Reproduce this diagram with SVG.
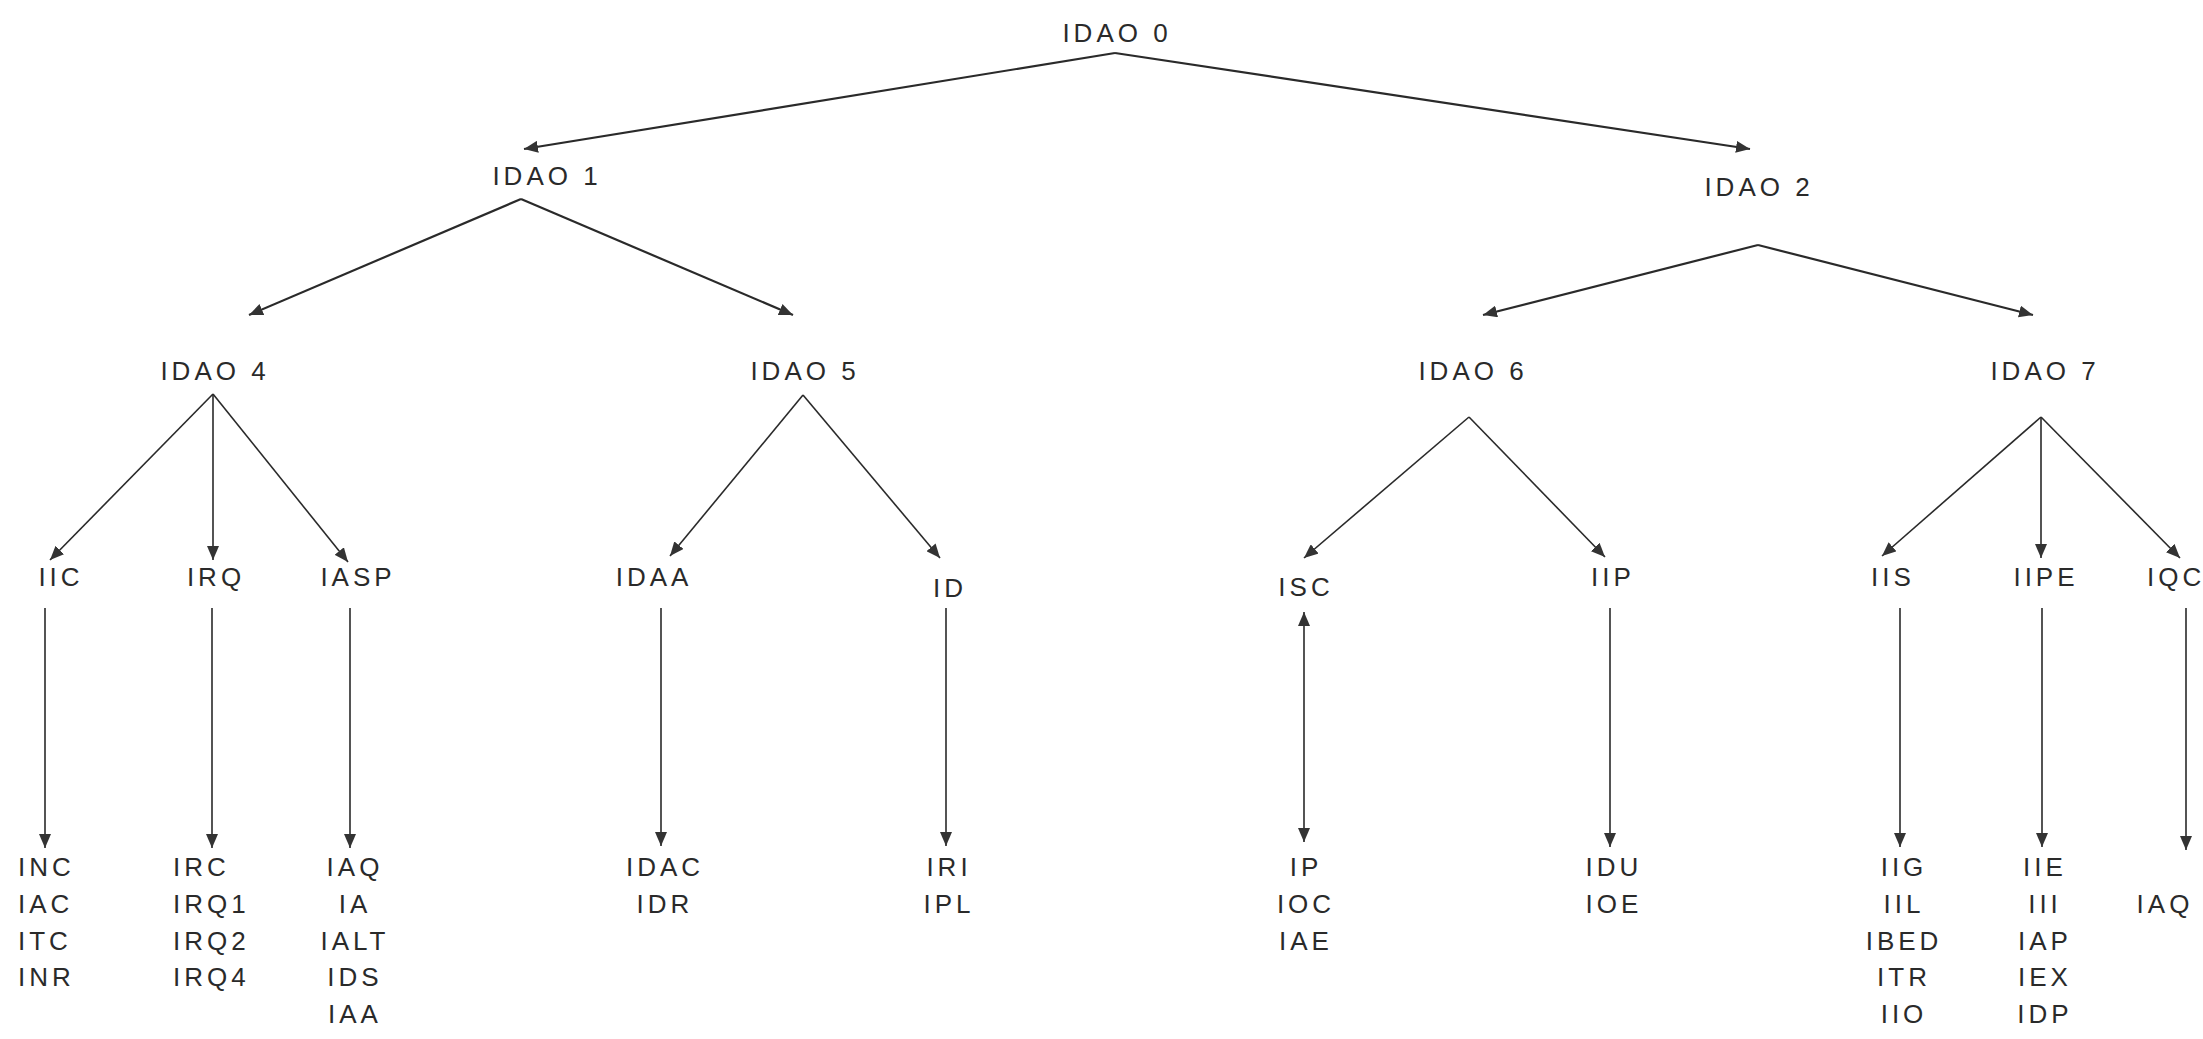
<svg xmlns="http://www.w3.org/2000/svg" width="2203" height="1039" viewBox="0 0 2203 1039">
<style>
text{font-family:"Liberation Sans","DejaVu Sans",Arial,sans-serif;font-size:26px;fill:#2a2a2a;letter-spacing:4px}
.m{text-anchor:middle}
.s{text-anchor:start}
.c line{stroke:#2a2a2a;stroke-width:1.6;fill:none}
.c .t{stroke-width:2.2}
</style>
<defs>
<marker id="ah" viewBox="0 0 14 12" refX="14" refY="6" markerWidth="14" markerHeight="12" markerUnits="userSpaceOnUse" orient="auto-start-reverse">
<path d="M0,0 L14,6 L0,12 z" fill="#333"/>
</marker>
</defs>
<rect width="2203" height="1039" fill="#fff"/>
<g class="c" id="connectors">
<line class="t" x1="1115" y1="53" x2="524" y2="149" marker-end="url(#ah)"/>
<line class="t" x1="1115" y1="53" x2="1750" y2="149" marker-end="url(#ah)"/>
<line class="t" x1="521" y1="199" x2="249" y2="315" marker-end="url(#ah)"/>
<line class="t" x1="521" y1="199" x2="793" y2="315" marker-end="url(#ah)"/>
<line class="t" x1="1758" y1="245" x2="1483" y2="315" marker-end="url(#ah)"/>
<line class="t" x1="1758" y1="245" x2="2033" y2="315" marker-end="url(#ah)"/>
<line x1="213" y1="394" x2="50" y2="560" marker-end="url(#ah)"/>
<line x1="213" y1="394" x2="213" y2="560" marker-end="url(#ah)"/>
<line x1="213" y1="394" x2="348" y2="562" marker-end="url(#ah)"/>
<line x1="803" y1="395" x2="670" y2="556" marker-end="url(#ah)"/>
<line x1="803" y1="395" x2="940" y2="558" marker-end="url(#ah)"/>
<line x1="1469" y1="417" x2="1304" y2="558" marker-end="url(#ah)"/>
<line x1="1469" y1="417" x2="1605" y2="557" marker-end="url(#ah)"/>
<line x1="2041" y1="417" x2="1882" y2="556" marker-end="url(#ah)"/>
<line x1="2041" y1="417" x2="2041" y2="558" marker-end="url(#ah)"/>
<line x1="2041" y1="417" x2="2180" y2="558" marker-end="url(#ah)"/>
<line x1="45" y1="608" x2="45" y2="848" marker-end="url(#ah)"/>
<line x1="212" y1="608" x2="212" y2="848" marker-end="url(#ah)"/>
<line x1="350" y1="608" x2="350" y2="848" marker-end="url(#ah)"/>
<line x1="661" y1="608" x2="661" y2="846" marker-end="url(#ah)"/>
<line x1="946" y1="608" x2="946" y2="846" marker-end="url(#ah)"/>
<line x1="1304" y1="612" x2="1304" y2="842" marker-start="url(#ah)" marker-end="url(#ah)"/>
<line x1="1610" y1="608" x2="1610" y2="847" marker-end="url(#ah)"/>
<line x1="1900" y1="608" x2="1900" y2="847" marker-end="url(#ah)"/>
<line x1="2042" y1="608" x2="2042" y2="847" marker-end="url(#ah)"/>
<line x1="2186" y1="608" x2="2186" y2="850" marker-end="url(#ah)"/>
</g>
<g id="n-idao0"><text class="m" x="1117" y="42">IDAO 0</text></g>
<g id="n-idao1"><text class="m" x="547" y="185">IDAO 1</text></g>
<g id="n-idao2"><text class="m" x="1759" y="196">IDAO 2</text></g>
<g id="n-idao4"><text class="m" x="215" y="380">IDAO 4</text></g>
<g id="n-idao5"><text class="m" x="805" y="380">IDAO 5</text></g>
<g id="n-idao6"><text class="m" x="1473" y="380">IDAO 6</text></g>
<g id="n-idao7"><text class="m" x="2045" y="380">IDAO 7</text></g>
<g id="n-iic"><text class="m" x="61" y="586">IIC</text></g>
<g id="n-irq"><text class="m" x="216" y="586">IRQ</text></g>
<g id="n-iasp"><text class="m" x="358" y="586">IASP</text></g>
<g id="n-idaa"><text class="m" x="654" y="586">IDAA</text></g>
<g id="n-id"><text class="m" x="950" y="597">ID</text></g>
<g id="n-isc"><text class="m" x="1306" y="596">ISC</text></g>
<g id="n-iip"><text class="m" x="1613" y="586">IIP</text></g>
<g id="n-iis"><text class="m" x="1893" y="586">IIS</text></g>
<g id="n-iipe"><text class="m" x="2046" y="586">IIPE</text></g>
<g id="n-iqc"><text class="s" x="2147" y="586">IQC</text></g>
<g id="n-inc"><text class="s" x="18" y="876">INC</text><text class="s" x="18" y="913">IAC</text><text class="s" x="18" y="950">ITC</text><text class="s" x="18" y="986">INR</text></g>
<g id="n-irc"><text class="s" x="173" y="876">IRC</text><text class="s" x="173" y="913">IRQ1</text><text class="s" x="173" y="950">IRQ2</text><text class="s" x="173" y="986">IRQ4</text></g>
<g id="n-iaq1"><text class="m" x="355" y="876">IAQ</text><text class="m" x="355" y="913">IA</text><text class="m" x="355" y="950">IALT</text><text class="m" x="355" y="986">IDS</text><text class="m" x="355" y="1023">IAA</text></g>
<g id="n-idac"><text class="m" x="665" y="876">IDAC</text><text class="m" x="665" y="913">IDR</text></g>
<g id="n-iri"><text class="m" x="949" y="876">IRI</text><text class="m" x="949" y="913">IPL</text></g>
<g id="n-ip"><text class="m" x="1306" y="876">IP</text><text class="m" x="1306" y="913">IOC</text><text class="m" x="1306" y="950">IAE</text></g>
<g id="n-idu"><text class="m" x="1614" y="876">IDU</text><text class="m" x="1614" y="913">IOE</text></g>
<g id="n-iig"><text class="m" x="1904" y="876">IIG</text><text class="m" x="1904" y="913">IIL</text><text class="m" x="1904" y="950">IBED</text><text class="m" x="1904" y="986">ITR</text><text class="m" x="1904" y="1023">IIO</text></g>
<g id="n-iie"><text class="m" x="2045" y="876">IIE</text><text class="m" x="2045" y="913">III</text><text class="m" x="2045" y="950">IAP</text><text class="m" x="2045" y="986">IEX</text><text class="m" x="2045" y="1023">IDP</text></g>
<g id="n-iaq2"><text class="m" x="2165" y="913">IAQ</text></g>
</svg>
